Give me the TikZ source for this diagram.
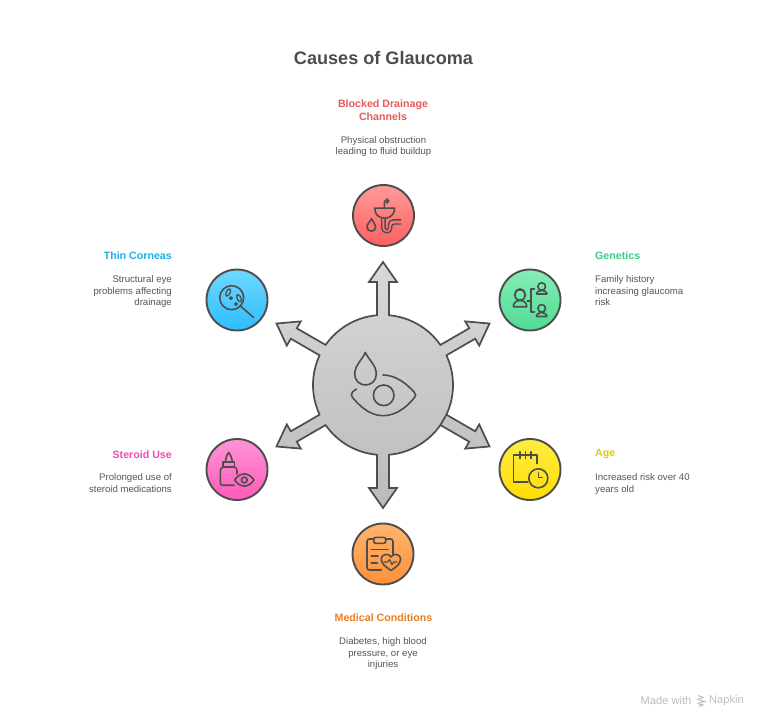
\documentclass[tikz,border=0pt]{standalone}
\usepackage{fontspec}
\setmainfont{Liberation Sans}
\definecolor{ink}{HTML}{4D4D4D}
\definecolor{bodytxt}{HTML}{555555}
\definecolor{markgray}{HTML}{BDBDBD}
\definecolor{D6}{HTML}{D8D8D8}
\definecolor{B9}{HTML}{BBBBBB}
\definecolor{FF95}{HTML}{FF9A9A}
\definecolor{FF5F}{HTML}{FF5F5F}
\definecolor{BL1}{HTML}{6FD8FF}
\definecolor{BL2}{HTML}{2DBDFF}
\definecolor{GR1}{HTML}{85EDB6}
\definecolor{GR2}{HTML}{4FDC94}
\definecolor{YE1}{HTML}{FFEC45}
\definecolor{YE2}{HTML}{FFDD00}
\definecolor{PK1}{HTML}{FF94D6}
\definecolor{PK2}{HTML}{FF5AB8}
\definecolor{OR1}{HTML}{FFB46E}
\definecolor{OR2}{HTML}{FF9038}
\definecolor{LBred}{HTML}{E85A5A}
\definecolor{LBgreen}{HTML}{3CCB87}
\definecolor{LBblue}{HTML}{1FAEE8}
\definecolor{LByellow}{HTML}{DECB10}
\definecolor{LBpink}{HTML}{E84DB0}
\definecolor{LBorange}{HTML}{E87F20}
\tikzset{
  x=1pt,y=-1pt,
  disc/.style={circle,minimum size=61pt,inner sep=0pt,draw=ink,line width=1.9pt},
  icon/.style={draw=ink,line width=1.6pt,line cap=round,line join=round,fill=none},
  fineicon/.style={draw=ink,line width=1.3pt,line cap=round,line join=round,fill=none},
  bigicon/.style={draw=ink,line width=1.6pt,line cap=round,line join=round,fill=none},
  heading/.style={inner sep=0pt,font=\fontsize{10.65}{13.5}\selectfont\bfseries},
  detail/.style={inner sep=0pt,text=bodytxt,font=\fontsize{9.6}{11.4}\selectfont},
}
\begin{document}
\begin{tikzpicture}
\useasboundingbox (0,0) rectangle (768,727);
\fill[white] (0,0) rectangle (768,727);

\node[inner sep=0pt,text=ink,font=\fontsize{18.1}{22}\selectfont\bfseries] (title) at (383.5,58) {Causes of Glaucoma};

% central hub with six arrows (one outline)
\begin{scope}[shift={(383,385)},y=1pt]
\path[draw=ink,line width=1.7pt,line join=miter,top color=D6,bottom color=B9]
  (-25.08:70pt)
  \foreach \a in {-30,30,90,150,210,270}{
    -- ([rotate=\a]69.74,-6) -- ([rotate=\a]103,-6) -- ([rotate=\a]103,-14) -- ([rotate=\a]123,0)
    -- ([rotate=\a]103,14) -- ([rotate=\a]103,6) -- ([rotate=\a]69.74,6)
    arc[start angle=\a+4.92,end angle=\a+55.08,radius=70pt]
  } -- cycle;
\end{scope}
\coordinate (hub) at (383,385);

% discs
\node[disc,top color=FF95,bottom color=FF5F] (blocked) at (383.5,215.5) {};
\node[disc,top color=BL1,bottom color=BL2] (corneas) at (237,300) {};
\node[disc,top color=GR1,bottom color=GR2] (genetics) at (530,300) {};
\node[disc,top color=YE1,bottom color=YE2] (age) at (530,469.5) {};
\node[disc,top color=PK1,bottom color=PK2] (steroid) at (237,469.5) {};
\node[disc,top color=OR1,bottom color=OR2] (medical) at (383,554) {};

% hub icon
\begin{scope}[shift={(hub)}]
\draw[bigicon] (-17.7,-32.7) .. controls (-20,-26) and (-28.3,-20) .. (-28.3,-10.7)
  .. controls (-28.3,-4.5) and (-23.5,0) .. (-17.5,0)
  .. controls (-11.5,0) and (-6.7,-4.5) .. (-6.7,-10.7)
  .. controls (-6.7,-20) and (-15,-26) .. cycle;
\draw[bigicon] (0.7,10.3) circle[radius=10.3pt];
\draw[bigicon] (0,-10) .. controls (13,-10) and (24,-1) .. (31.5,7.5)
  .. controls (33,9) and (33,11) .. (31.5,12.5)
  .. controls (24,22) and (13,30.7) .. (0,30.7)
  .. controls (-14,30.7) and (-24,20) .. (-30.5,12.5)
  .. controls (-32,10.5) and (-32,8.5) .. (-30.5,7)
  -- (-26.7,4);
\end{scope}

% sink
\begin{scope}[shift={(blocked.center)}]
\draw[icon] (-8.8,-7.3) -- (11.2,-7.3) .. controls (11.2,-1) and (6.5,2.7) .. (1.2,2.7)
  .. controls (-4.5,2.7) and (-8.8,-1) .. cycle;
\draw[icon] (0.8,-7.3) -- (0.8,-13) .. controls (0.8,-15.5) and (3,-15.5) .. (5,-14.5);
\draw[icon] (3.3,-16.5) -- (5.3,-14.5) -- (3.3,-12.5);
\draw[icon] (-12,3.3) .. controls (-13,6.5) and (-16.5,8) .. (-16.5,11.5)
  .. controls (-16.5,14) and (-14.5,15.7) .. (-12.1,15.7)
  .. controls (-9.7,15.7) and (-7.8,14) .. (-7.8,11.5)
  .. controls (-7.8,8) and (-11,6.5) .. cycle;
\draw[fineicon] (-1.7,3.5) -- (-1.7,12.5) .. controls (-1.7,15.7) and (0.8,17.4) .. (3.3,17.4)
  .. controls (5.8,17.4) and (8.3,15.7) .. (8.3,12.5) -- (8.3,11) .. controls (8.3,9.5) and (9,8.6) .. (11,8.6) -- (17.3,8.6);
\draw[fineicon] (1.6,3.5) -- (1.6,12.5) .. controls (1.6,14.8) and (5,14.8) .. (5,12.5) -- (5,9)
  .. controls (5,6) and (7,4.4) .. (9.5,4.4) -- (17.3,4.4);
\end{scope}

% magnifier
\begin{scope}[shift={(corneas.center)}]
\draw[icon] (-5.3,-2.3) circle[radius=12pt];
\draw[icon] (3.4,6) -- (16.3,17.3);
\draw[fineicon,rotate around={-25:(-8.8,-7.5)}] (-8.8,-7.5) ellipse[x radius=1.9pt,y radius=3.9pt];
\draw[fineicon] (-6,-1.8) circle[radius=1.3pt];
\draw[fineicon,rotate around={25:(2,-1.8)}] (2,-1.8) ellipse[x radius=1.9pt,y radius=3.9pt];
\draw[fineicon] (-1,4) circle[radius=1.3pt];
\end{scope}

% family tree
\begin{scope}[shift={(genetics.center)}]
\draw[icon] (-10,-5) circle[radius=5.4pt];
\draw[icon] (-16.7,6.7) -- (-3.2,6.7) .. controls (-3.2,3) and (-6,0.5) .. (-10,0.5)
  .. controls (-14,0.5) and (-16.7,3) .. cycle;
\draw[icon] (-15,-4.5) .. controls (-15,-10) and (-12,-11) .. (-10,-11) .. controls (-8,-11) and (-5,-10) .. (-5,-4.5);
\draw[icon] (11.7,-13.5) circle[radius=3.8pt];
\draw[icon] (6.7,-6) -- (16.7,-6) -- (16.7,-7) .. controls (16.7,-8.5) and (14,-9.5) .. (11.7,-9.5) .. controls (9.4,-9.5) and (6.7,-8.5) .. (6.7,-7) -- cycle;
\draw[icon] (11.7,8.3) circle[radius=3.8pt];
\draw[icon] (6.7,16.5) -- (16.7,16.5) -- (16.7,15.5) .. controls (16.7,14) and (14,12.5) .. (11.7,12.5) .. controls (9.4,12.5) and (6.7,14) .. (6.7,15.5) -- cycle;
\draw[icon] (4.3,-10.7) -- (0.7,-10.7) -- (0.7,11.7) -- (4.3,11.7);
\draw[icon] (-2.7,0.7) -- (0.7,0.7);
\end{scope}

% calendar and clock
\begin{scope}[shift={(age.center)}]
\draw[icon] (-2.3,12.2) -- (-16.7,12.2) -- (-16.7,-14.5) -- (6.7,-14.5) -- (6.7,-6);
\draw[icon] (-10,-17.8) -- (-10,-11);
\draw[icon] (-4.6,-17.8) -- (-4.6,-11);
\draw[icon] (0.9,-17.8) -- (0.9,-11);
\draw[icon] (8.3,8.8) circle[radius=9.5pt];
\draw[icon] (8.3,3.5) -- (8.3,8) -- (12,8);
\end{scope}

% eye drops
\begin{scope}[shift={(steroid.center)}]
\draw[icon] (-8.3,-17) .. controls (-10.5,-14) and (-11.5,-10.5) .. (-11.7,-7.5) -- (-4.5,-7.5) .. controls (-4.8,-10.5) and (-6,-14) .. cycle;
\draw[icon] (-14,-7.5) -- (-2.5,-7.5) -- (-2.5,-2.5) -- (-14,-2.5) -- cycle;
\draw[icon] (-14,-2.5) .. controls (-15.5,-2) and (-16.7,-0.5) .. (-16.7,1.5) -- (-16.7,13.5)
  .. controls (-16.7,15) and (-15.5,15.7) .. (-14.5,15.7) -- (-3,15.7);
\draw[icon] (-2.5,-2.5) .. controls (-1,-2) and (0,-0.5) .. (0,1.5) -- (0,4.5);
\draw[icon] (-2.4,10.5) .. controls (1,5.5) and (4.5,4.5) .. (7.3,4.5) .. controls (10.5,4.5) and (14,6) .. (17,10.5)
  .. controls (14,15) and (10.5,16.5) .. (7.3,16.5) .. controls (4.5,16.5) and (1,15.5) .. cycle;
\draw[icon] (7.3,10.5) circle[radius=2.9pt];
\end{scope}

% clipboard and heart
\begin{scope}[shift={(medical.center)}]
\draw[icon] (-1.7,16) -- (-13.5,16) .. controls (-15,16) and (-16,15) .. (-16,13.5) -- (-16,-12.5)
  .. controls (-16,-14) and (-15,-15) .. (-13.5,-15) -- (-9.3,-15);
\draw[icon] (2.7,-15) -- (7.5,-15) .. controls (9,-15) and (10,-14) .. (10,-12.5) -- (10,0.3);
\draw[icon,rounded corners=2pt] (-9.3,-16.6) rectangle (2.7,-10.7);
\draw[icon] (-11.7,-4.7) -- (5,-4.7);
\draw[icon] (-11.7,2) -- (-5,2);
\draw[icon] (-11.7,8.7) -- (-5.5,8.7);
\draw[icon] (8,16.5) .. controls (3,13) and (-1.7,10) .. (-1.7,5.5)
  .. controls (-1.7,2) and (1,0.3) .. (3,0.3) .. controls (5,0.3) and (7,1.2) .. (8,3)
  .. controls (9,1.2) and (11,0.3) .. (13,0.3) .. controls (15,0.3) and (17.5,2) .. (17.5,5.5)
  .. controls (17.5,10) and (13,13) .. cycle;
\draw[icon,line width=1.2pt] (1,8) -- (4.5,8) -- (6.5,5.5) -- (9,10.5) -- (10.8,8) -- (14,8);
\end{scope}

% labels
\node[heading,text=LBred,align=center,anchor=north] (blockedhead) at (383,99.5) {Blocked Drainage\\Channels};
\node[detail,align=center,anchor=north] (blockedtext) at (383.5,136) {Physical obstruction\\leading to fluid buildup};

\node[heading,text=LBgreen,anchor=west] (geneticshead) at (595,256) {Genetics};
\node[detail,align=left,anchor=north west] (geneticstext) at (595,275.8) {Family history\\increasing glaucoma\\risk};

\node[heading,text=LByellow,anchor=west] (agehead) at (595,454.3) {Age};
\node[detail,align=left,anchor=north west] (agetext) at (595,473.5) {Increased risk over 40\\years old};

\node[heading,text=LBblue,anchor=east] (corneashead) at (172,256) {Thin Corneas};
\node[detail,align=right,anchor=north east] (corneastext) at (172,275.8) {Structural eye\\problems affecting\\drainage};

\node[heading,text=LBpink,anchor=east] (steroidhead) at (172,454.3) {Steroid Use};
\node[detail,align=right,anchor=north east] (steroidtext) at (172,473.5) {Prolonged use of\\steroid medications};

\node[heading,text=LBorange,anchor=center] (medicalhead) at (383.5,618) {Medical Conditions};
\node[detail,align=center,anchor=north] (medicaltext) at (383,637.5) {Diabetes, high blood\\pressure, or eye\\injuries};

% watermark
\node[inner sep=0pt,text=markgray,anchor=east,font=\fontsize{11.1}{12}\selectfont] (madewith) at (691.5,700.5) {Made with};
\node[inner sep=0pt,text=markgray,anchor=west,font=\fontsize{11.1}{12}\selectfont] (napkin) at (709,700.5) {Napkin};
\draw[markgray,line width=1pt] (698,695.5) -- (703,697.5) -- (697.5,699.5);
\draw[markgray,line width=1pt] (697.5,699.5) -- (705,701.5) -- (697.5,703.5);
\draw[markgray,line width=1pt] (697.5,703.5) -- (703,705) -- (699,706.5);
\end{tikzpicture}
\end{document}
